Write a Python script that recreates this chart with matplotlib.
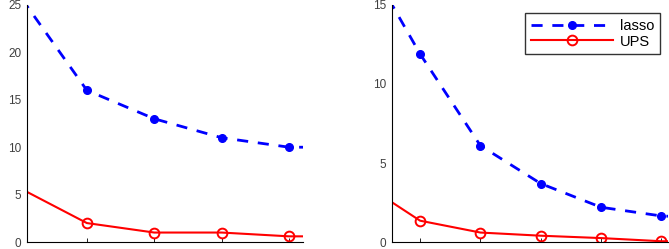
import matplotlib.pyplot as plt

plt.rcParams['font.family'] = ['Liberation Sans', 'DejaVu Sans']

# left panel
x_left = [1, 2, 3, 4, 5, 6]
lasso_left = [26, 16, 13, 11, 10, 10]
ups_left = [5.7, 2, 1, 1, 0.6, 0.6]
ticks_left = [2, 3, 4, 5]

# right panel
x_right = [1, 2, 3, 4, 5, 6, 7]
lasso_right = [18.6, 11.9, 6.1, 3.7, 2.2, 1.65, 1.5]
ups_right = [3.85, 1.35, 0.6, 0.4, 0.25, 0.05, 0.03]
ticks_right = [2, 3, 4, 5, 6]

fig = plt.figure(figsize=(6.69, 2.49), dpi=100)
ax1 = fig.add_axes([0.040, 0.028, 0.413, 0.952])
ax2 = fig.add_axes([0.586, 0.028, 0.413, 0.952])


def draw(ax, x, lasso, ups, ticks, xlim, ylim, yticks):
    ax.plot(x, lasso, '--', color='blue', lw=2, marker='o', ms=5.5,
            mfc='blue', mec='blue', label='lasso', dashes=(4, 3.5))
    ax.plot(x, ups, '-', color='red', lw=1.5, marker='o', ms=7,
            mfc='none', mec='red', mew=1.4, label='UPS')
    ax.set_xlim(xlim)
    ax.set_ylim(ylim)
    ax.set_xticks(ticks)
    ax.set_xticklabels([])
    ax.set_yticks(yticks)
    ax.spines['top'].set_visible(False)
    ax.spines['right'].set_visible(False)
    ax.spines['left'].set_linewidth(0.8)
    ax.spines['bottom'].set_linewidth(0.8)
    ax.tick_params(axis='x', direction='in', length=3, width=0.6)
    ax.tick_params(axis='y', direction='in', length=0, labelsize=8.5,
                   labelcolor='#404040', pad=4)


draw(ax1, x_left, lasso_left, ups_left, ticks_left, (1.108, 5.208), (0, 25),
     [0, 5, 10, 15, 20, 25])
draw(ax2, x_right, lasso_right, ups_right, ticks_right, (1.535, 6.116), (0, 15),
     [0, 5, 10, 15])

leg = ax2.legend(loc='upper right', fontsize=10.5, frameon=True, fancybox=False,
                 borderaxespad=0.55, handlelength=5.6, borderpad=0.4,
                 labelspacing=0.12, handletextpad=0.5)
leg.get_frame().set_edgecolor('black')
leg.get_frame().set_linewidth(1.0)

fig.savefig('out.png', dpi=100)
